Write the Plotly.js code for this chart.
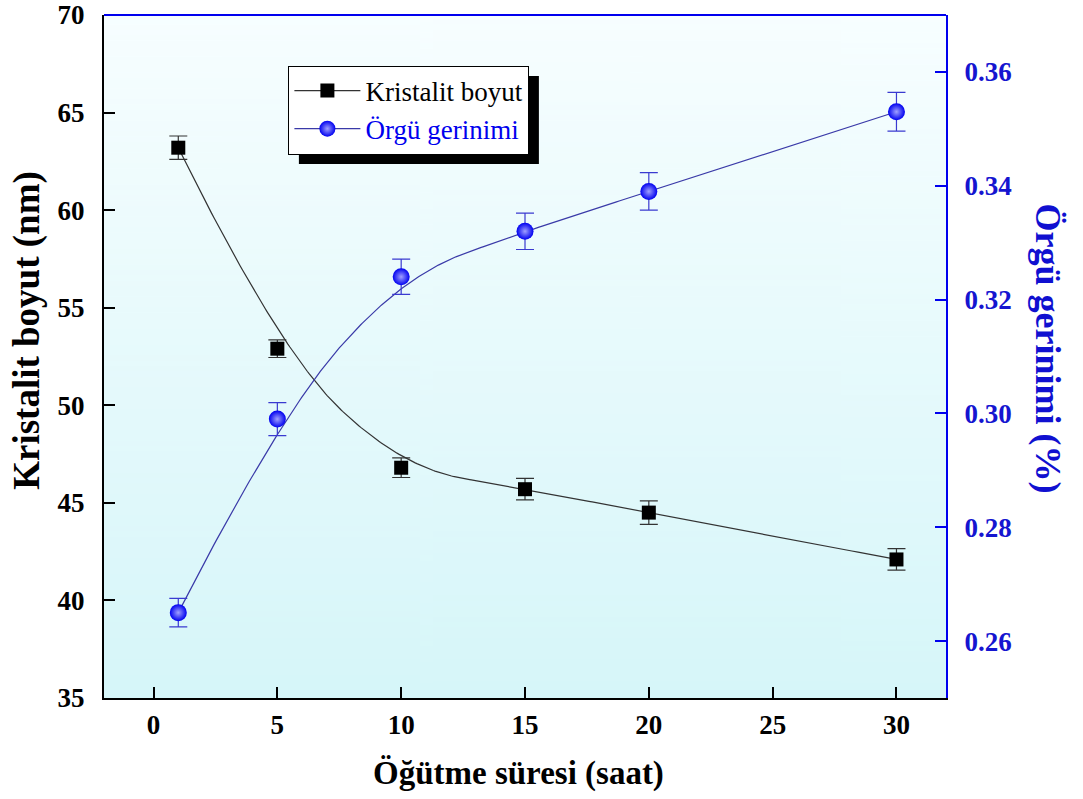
<!DOCTYPE html>
<html>
<head>
<meta charset="utf-8">
<script src="https://cdn.plot.ly/plotly-3.0.1.min.js"></script>
<style>html,body{margin:0;padding:0;background:#fff;}#chart{width:1083px;height:799px;}</style>
</head>
<body>
<div id="chart"></div>
<script>
// ---- data ----
const millingHours = [1, 5, 10, 15, 20, 30];
const crystalliteSize = [63.2, 52.9, 46.8, 45.7, 44.5, 42.1];
const crystalliteErr = [0.6, 0.45, 0.5, 0.55, 0.6, 0.55];
const latticeStrain = [0.265, 0.299, 0.324, 0.332, 0.339, 0.353];
const latticeStrainErr = [0.0025, 0.0029, 0.0031, 0.0032, 0.0033, 0.0034];
const xTicks = [0, 5, 10, 15, 20, 25, 30];
const yTicks = [35, 40, 45, 50, 55, 60, 65, 70];
const y2Ticks = [0.26, 0.28, 0.30, 0.32, 0.34, 0.36];
const seriesNames = ['Kristalit boyut', 'Örgü gerinimi'];
const xTitle = 'Öğütme süresi (saat)';
const yTitle = 'Kristalit boyut (nm)';
const y2Title = 'Örgü gerinimi (%)';

// clamped B-spline with the data points as control points (Origin "B-Spline" connection)
function bspline(xs, ys, p, samples) {
  const n = xs.length;
  const knots = [];
  for (let i = 0; i <= p; i++) knots.push(0);
  for (let i = 1; i < n - p; i++) knots.push(i);
  for (let i = 0; i <= p; i++) knots.push(n - p);
  const uMax = n - p;
  function N(i, k, u) {
    if (k === 0) {
      if (u >= uMax) return (knots[i] < uMax && knots[i + 1] === uMax) ? 1 : 0;
      return (knots[i] <= u && u < knots[i + 1]) ? 1 : 0;
    }
    let a = 0, b = 0;
    const d1 = knots[i + k] - knots[i], d2 = knots[i + k + 1] - knots[i + 1];
    if (d1 > 0) a = (u - knots[i]) / d1 * N(i, k - 1, u);
    if (d2 > 0) b = (knots[i + k + 1] - u) / d2 * N(i + 1, k - 1, u);
    return a + b;
  }
  const ox = [], oy = [];
  for (let s = 0; s <= samples; s++) {
    const u = uMax * s / samples;
    let X = 0, Y = 0;
    for (let i = 0; i < n; i++) { const w = N(i, p, u); X += w * xs[i]; Y += w * ys[i]; }
    ox.push(X); oy.push(Y);
  }
  return {x: ox, y: oy};
}

const c1 = bspline(millingHours, crystalliteSize, 2, 300);
const c2 = bspline(millingHours, latticeStrain, 2, 300);

const serif = 'Liberation Serif, Times New Roman, serif';
const blue = '#0000ee';

// gradient background image
const cv = document.createElement('canvas');
cv.width = 4; cv.height = 256;
const cx = cv.getContext('2d');
const gr = cx.createLinearGradient(0, 0, 0, 256);
gr.addColorStop(0, '#f7feff');
gr.addColorStop(1, '#d6f6f9');
cx.fillStyle = gr; cx.fillRect(0, 0, 4, 256);
const bgURL = cv.toDataURL();

const traces = [
  {x: c1.x, y: c1.y, mode: 'lines', line: {color: '#333333', width: 1.2}, showlegend: false, hoverinfo: 'skip'},
  {x: c2.x, y: c2.y, yaxis: 'y2', mode: 'lines', line: {color: '#3a3aa8', width: 1.2}, showlegend: false, hoverinfo: 'skip'},
  {x: millingHours, y: crystalliteSize, mode: 'markers', showlegend: false,
   marker: {symbol: 'square', size: 14, color: '#000000'},
   error_y: {type: 'data', array: crystalliteErr, visible: true, color: '#333333', thickness: 1.2, width: 9}},
  {x: millingHours, y: latticeStrain, yaxis: 'y2', mode: 'markers', showlegend: false,
   marker: {symbol: 'circle', size: 17, color: '#0000f0', gradient: {type: 'radial', color: '#a0a0ff'}},
   error_y: {type: 'data', array: latticeStrainErr, visible: true, color: '#3a3ad0', thickness: 1.2, width: 9}},
  // legend entries
  {x: [null], y: [null], mode: 'lines+markers', name: seriesNames[0],
   line: {color: '#333333', width: 1.2}, marker: {symbol: 'square', size: 14, color: '#000000'}},
  {x: [null], y: [null], yaxis: 'y2', mode: 'lines+markers', name: '<span style="color:#0000ee">' + seriesNames[1] + '</span>',
   line: {color: '#3a3aa8', width: 1.2}, marker: {symbol: 'circle', size: 16, color: '#0000f0', gradient: {type: 'radial', color: '#a0a0ff'}}}
];

const layout = {
  width: 1083, height: 799,
  margin: {l: 104, r: 137, t: 15, b: 101},
  paper_bgcolor: '#ffffff',
  plot_bgcolor: '#e8fbfd',
  showlegend: true,
  font: {family: serif, color: '#000'},
  xaxis: {
    range: [-2, 32], tickvals: xTicks, ticks: 'inside', ticklen: 11, tickwidth: 2, tickcolor: '#000',
    showline: true, linecolor: '#000', linewidth: 2, showgrid: false, zeroline: false,
    ticklabelstandoff: 2,
    tickfont: {family: serif, size: 27, weight: 'bold', color: '#000'}
  },
  yaxis: {
    range: [35, 70], tickvals: yTicks, ticks: 'inside', ticklen: 11, tickwidth: 2, tickcolor: '#000',
    showline: true, linecolor: '#000', linewidth: 2, showgrid: false, zeroline: false,
    ticklabelstandoff: 12,
    tickfont: {family: serif, size: 27, weight: 'bold', color: '#000'}
  },
  yaxis2: {
    overlaying: 'y', side: 'right', range: [0.25, 0.37], tickvals: y2Ticks, tickformat: '.2f',
    ticks: 'inside', ticklen: 11, tickwidth: 2, tickcolor: blue,
    showline: true, linecolor: blue, linewidth: 2, showgrid: false, zeroline: false,
    ticklabelstandoff: 11,
    tickfont: {family: serif, size: 27, weight: 'bold', color: '#1515d0'}
  },
  legend: {
    x: 0.219, y: 0.926, xanchor: 'left', yanchor: 'top',
    bgcolor: '#ffffff', bordercolor: '#000', borderwidth: 1,
    font: {family: serif, size: 27, color: '#000'},
    itemwidth: 66, tracegroupgap: 0
  },
  images: [{source: bgURL, xref: 'paper', yref: 'paper', x: 0, y: 1, sizex: 1, sizey: 1,
            sizing: 'stretch', layer: 'below'}],
  shapes: [
    {type: 'line', xref: 'paper', yref: 'paper', x0: 0, x1: 1, y0: 1, y1: 1, line: {color: blue, width: 2}, layer: 'above'}
  ],
  annotations: [
    {text: xTitle, xref: 'paper', yref: 'paper', x: 0.492, y: -0.11, xanchor: 'center', yanchor: 'middle', showarrow: false,
     font: {family: serif, size: 33, weight: 'bold', color: '#000'}},
    {text: yTitle, xref: 'paper', yref: 'paper', x: -0.0915, y: 0.539, xanchor: 'center', yanchor: 'middle', showarrow: false, textangle: -90,
     font: {family: serif, size: 37, weight: 'bold', color: '#000'}},
    {text: y2Title, xref: 'paper', yref: 'paper', x: 1.121, y: 0.512, xanchor: 'center', yanchor: 'middle', showarrow: false, textangle: 90,
     font: {family: serif, size: 36, weight: 'bold', color: '#1010d0'}}
  ]
};

Plotly.newPlot('chart', traces, layout, {displayModeBar: false, staticPlot: true}).then(function (gd) {
  const bg = gd.querySelector('.legend .bg');
  if (!bg) return;
  const r = bg.getBoundingClientRect();
  const g = gd.getBoundingClientRect();
  const sz = gd._fullLayout._size;
  const off = 10;
  const toX = px => (px - g.left - sz.l) / sz.w;
  const toY = py => 1 - (py - g.top - sz.t) / sz.h;
  const shadow = {type: 'rect', xref: 'paper', yref: 'paper',
    x0: toX(r.left + off), x1: toX(r.right + off), y0: toY(r.top + off), y1: toY(r.bottom + off),
    fillcolor: '#000', line: {width: 0}, layer: 'above'};
  Plotly.relayout(gd, {shapes: layout.shapes.concat([shadow])});
});
</script>
</body>
</html>
